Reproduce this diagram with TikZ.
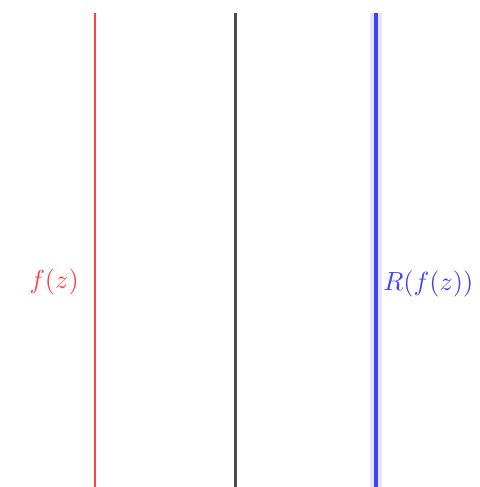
\documentclass[tikz,border=0pt]{standalone}
\usepackage{amsmath,amssymb}
\usetikzlibrary{positioning}

\begin{document}
\begin{tikzpicture}[x=0.4pt,y=0.4pt]
\useasboundingbox (0,0) rectangle (480,487);
\coordinate (ftop) at (95,474); \coordinate (fbot) at (95,0);
\coordinate (mtop) at (235,474); \coordinate (mbot) at (235,0);
\coordinate (rtop) at (376,474); \coordinate (rbot) at (376,0);
\draw[line width=0.9pt,red!75] (ftop)--(fbot);
\draw[line width=1.2pt,black!70] (mtop)--(mbot);
\draw[line width=4.5pt,blue!10] (rtop)--(rbot);
\draw[line width=1.3pt,blue!75] (rtop)--(rbot);
\node[red!75,anchor=east,scale=1.05] (flabel) at (88,205) {$f(z)$};
\node[blue!75,anchor=west,scale=1.05] (rlabel) at (374,203) {$R(f(z))$};
\end{tikzpicture}
\end{document}
